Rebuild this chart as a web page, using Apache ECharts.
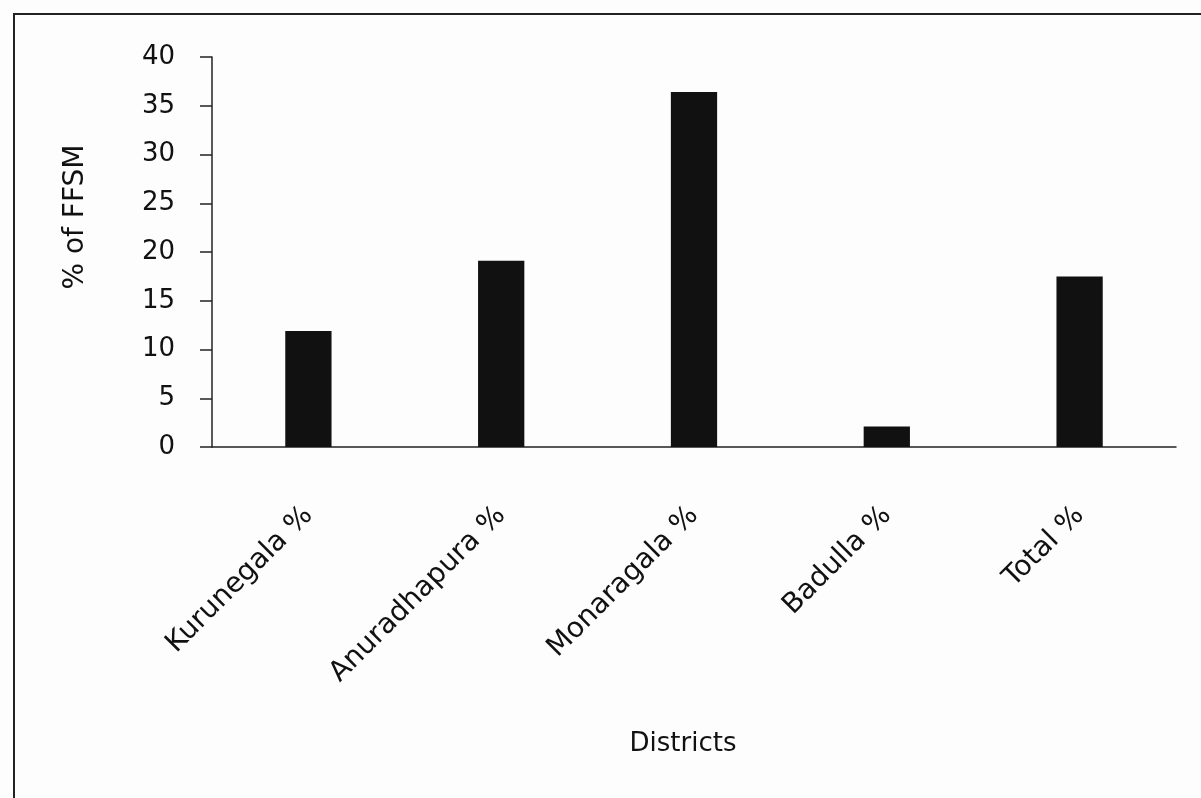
<!DOCTYPE html>
<html>
<head>
<meta charset="utf-8">
<script src="https://cdn.jsdelivr.net/npm/echarts@6/dist/echarts.min.js"></script>
<style>
  html, body { margin: 0; padding: 0; background: #fdfdfd; }
  #chart { width: 1201px; height: 798px; }
</style>
</head>
<body>
<div id="chart"></div>
<script>
// 数据
var districts = ['Kurunegala %', 'Anuradhapura %', 'Monaragala %', 'Badulla %', 'Total %'];
var ffsmPercent = [11.9, 19.1, 36.4, 2.1, 17.5];
var yMin = 0;
var yMax = 40;
var yStep = 5;

(function () {
  var myChart = echarts.init(document.getElementById('chart'));
  var textColor = '#111';
  var font = '"DejaVu Sans", sans-serif';
  var option = {
    backgroundColor: '#fdfdfd',
    animation: false,
    // 外框
    graphic: [
      {
        type: 'rect',
        shape: { x: 14, y: 14, width: 1200, height: 800 },
        style: { fill: 'none', stroke: '#222', lineWidth: 2 }
      }
    ],
    grid: {
      left: 212,
      right: 25,
      top: 57,
      bottom: 351
    },
    xAxis: {
      type: 'category',
      data: districts,
      name: 'Districts',
      nameLocation: 'middle',
      nameGap: 284,
      nameTextStyle: { color: textColor, fontSize: 26, fontFamily: font, padding: [0, 22, 0, 0] },
      axisTick: { show: false },
      axisLine: { lineStyle: { color: '#222', width: 1.5 } },
      axisLabel: {
        rotate: 45,
        margin: 64,
        color: textColor,
        fontSize: 28,
        fontFamily: font,
        interval: 0
      }
    },
    yAxis: {
      type: 'value',
      min: yMin,
      max: yMax,
      interval: yStep,
      name: '% of FFSM',
      nameLocation: 'middle',
      nameGap: 122,
      nameTextStyle: { color: textColor, fontSize: 28, fontFamily: font, padding: [0, 0, 0, 70] },
      axisLine: { show: true, lineStyle: { color: '#222', width: 1.5 } },
      axisTick: { show: true, length: 12, lineStyle: { color: '#222', width: 1.5 } },
      splitLine: { show: false },
      axisLabel: {
        margin: 37,
        color: textColor,
        fontSize: 26,
        fontFamily: font
      }
    },
    series: [
      {
        name: '% of FFSM',
        type: 'bar',
        barWidth: '24%',
        data: ffsmPercent,
        itemStyle: { color: '#111' }
      }
    ]
  };
  myChart.setOption(option);
  window.addEventListener('resize', function () {
    myChart.resize();
  });
})();
</script>
</body>
</html>
